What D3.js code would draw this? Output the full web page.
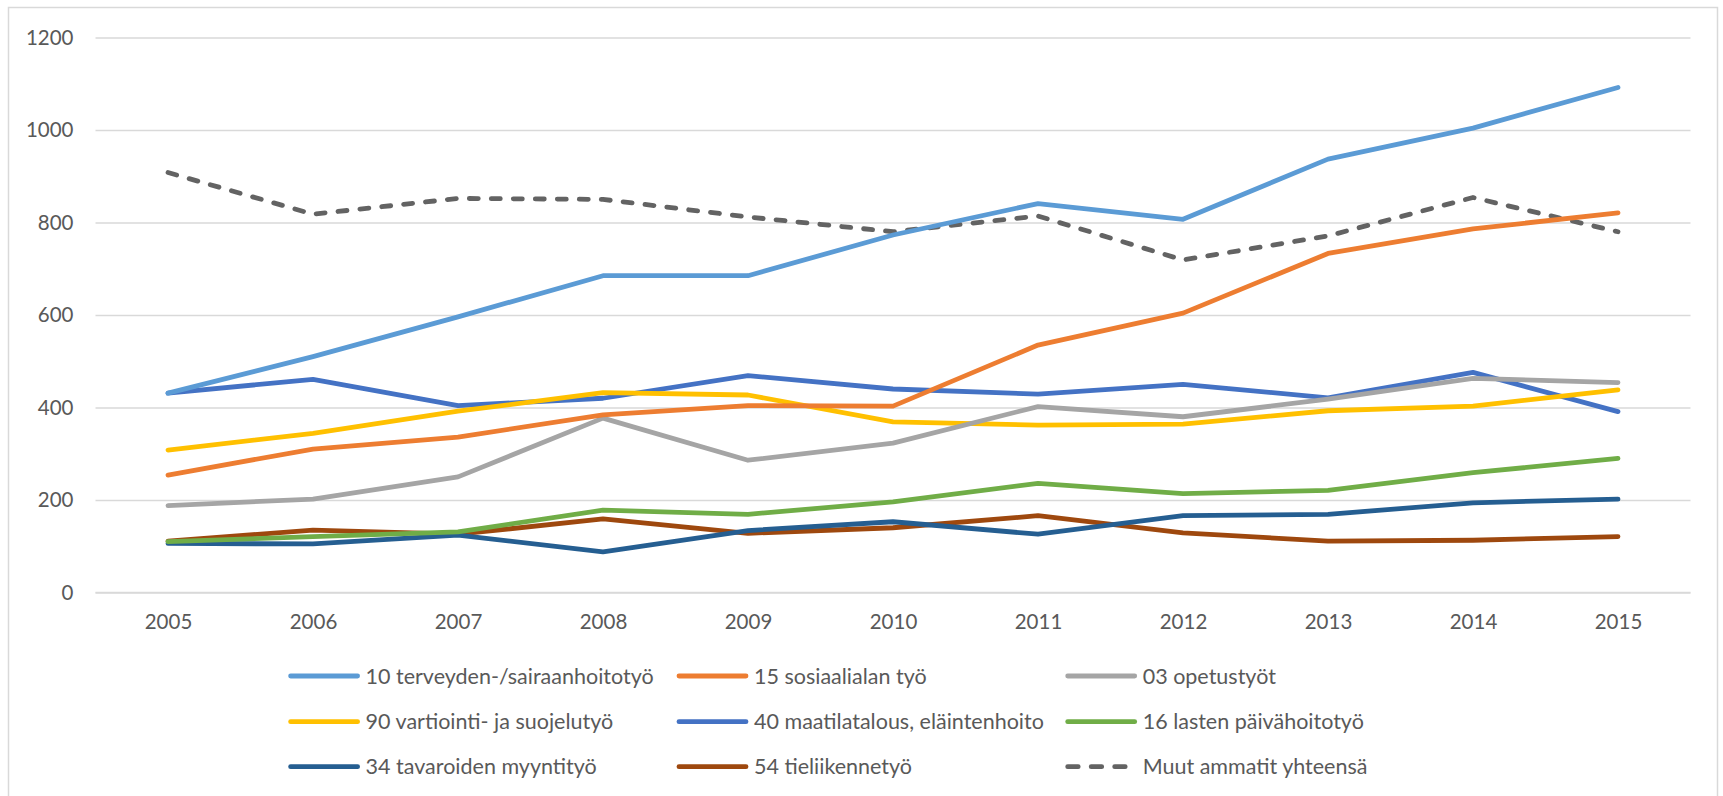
<!DOCTYPE html>
<html>
<head>
<meta charset="utf-8">
<script src="https://cdn.jsdelivr.net/npm/d3@7"></script>
<style>
  html, body { margin: 0; padding: 0; background: #fff; }
  svg { display: block; }
  text { font-family: Lato, "Open Sans", sans-serif; fill: #595959; }
</style>
</head>
<body>
<svg id="chart" width="1723" height="796"></svg>
<script>
const years = [2005, 2006, 2007, 2008, 2009, 2010, 2011, 2012, 2013, 2014, 2015];
const yTicks = [0, 200, 400, 600, 800, 1000, 1200];

const seriesNames = [
  "10 terveyden-/sairaanhoitotyö",
  "15 sosiaalialan työ",
  "03 opetustyöt",
  "90 vartiointi- ja suojelutyö",
  "40 maatilatalous, eläintenhoito",
  "16 lasten päivähoitotyö",
  "34 tavaroiden myyntityö",
  "54 tieliikennetyö",
  "Muut ammatit yhteensä"
];
const seriesColors = ["#5B9BD5", "#ED7D31", "#A5A5A5", "#FFC000", "#4472C4", "#70AD47", "#255E91", "#9E480E", "#636363"];

const terveys   = [431, 510, 596, 685, 685, 773, 841, 807, 937, 1004, 1092];
const sosiaali  = [254, 310, 336, 384, 404, 403, 535, 604, 733, 786, 821];
const opetus    = [188, 202, 250, 377, 286, 323, 402, 380, 418, 463, 454];
const vartiointi= [308, 344, 392, 432, 427, 369, 362, 364, 393, 403, 438];
const maatila   = [431, 461, 404, 420, 469, 440, 429, 450, 421, 476, 391];
const lasten    = [110, 121, 131, 178, 169, 196, 236, 214, 221, 259, 290];
const tavarat   = [106, 105, 124, 88, 134, 153, 126, 166, 169, 194, 202];
const tieliike  = [111, 135, 126, 159, 128, 140, 166, 129, 111, 113, 121];
const muut      = [908, 818, 852, 850, 812, 780, 814, 719, 771, 854, 780];

const seriesValues = [terveys, sosiaali, opetus, vartiointi, maatila, lasten, tavarat, tieliike, muut];
const dashedIndex = 8;

const svg = d3.select("#chart");

// chart border
svg.append("rect")
  .attr("x", 8.5).attr("y", 7.5)
  .attr("width", 1709).attr("height", 800)
  .attr("fill", "#fff").attr("stroke", "#D9D9D9").attr("stroke-width", 1.5);

const plotLeft = 95.5, plotRight = 1690.5;
const x = d3.scalePoint().domain(years).range([168, 1618]);
const y = d3.scaleLinear().domain([0, 1200]).range([592.5, 37.5]);

// gridlines + y labels
const yAxis = d3.axisLeft(y).tickValues(yTicks).tickFormat(d3.format("d"))
  .tickSize(-(plotRight - plotLeft)).tickPadding(22);
const gy = svg.append("g").attr("transform", `translate(${plotLeft},0)`).call(yAxis);
gy.select(".domain").remove();
gy.selectAll(".tick line").attr("stroke", "#D9D9D9").attr("stroke-width", 1.5);
gy.selectAll(".tick text").attr("font-size", 20.5).attr("fill", "#595959")
  .style("font-family", "Lato, sans-serif");

// x axis
const xAxis = d3.axisBottom(x).tickSize(0).tickPadding(22).tickFormat(d3.format("d"));
const gx = svg.append("g").attr("transform", `translate(0,${y(0)})`).call(xAxis);
gx.select(".domain").remove();
gx.selectAll(".tick text").attr("font-size", 20.5).attr("fill", "#595959")
  .style("font-family", "Lato, sans-serif");
svg.append("line")
  .attr("x1", plotLeft).attr("x2", plotRight)
  .attr("y1", y(0)).attr("y2", y(0))
  .attr("stroke", "#D9D9D9").attr("stroke-width", 1.5);

// lines
const line = d3.line().x((d, i) => x(years[i])).y(d => y(d));
const drawOrder = [8, 7, 6, 5, 4, 3, 2, 1, 0];
drawOrder.forEach(si => {
  svg.append("path")
    .datum(seriesValues[si])
    .attr("d", line)
    .attr("fill", "none")
    .attr("stroke", seriesColors[si])
    .attr("stroke-width", 4.8)
    .attr("stroke-linejoin", "round")
    .attr("stroke-linecap", "round")
    .attr("stroke-dasharray", si === dashedIndex ? "9 13" : null);
});

// legend
const legendCols = [288.6, 677, 1065.7];
const legendRows = [676, 721.7, 766.7];
seriesNames.forEach((name, i) => {
  const cx = legendCols[i % 3], cy = legendRows[Math.floor(i / 3)];
  const g = svg.append("g");
  g.append("line")
    .attr("x1", cx + 2).attr("x2", cx + 69)
    .attr("y1", cy).attr("y2", cy)
    .attr("stroke", seriesColors[i])
    .attr("stroke-width", 4.8)
    .attr("stroke-linecap", "round")
    .attr("stroke-dasharray", i === dashedIndex ? "10.5 13" : null);
  g.append("text")
    .attr("x", cx + 77).attr("y", cy)
    .attr("dy", "0.36em")
    .attr("font-size", 21.5)
    .text(name);
});
</script>
</body>
</html>
